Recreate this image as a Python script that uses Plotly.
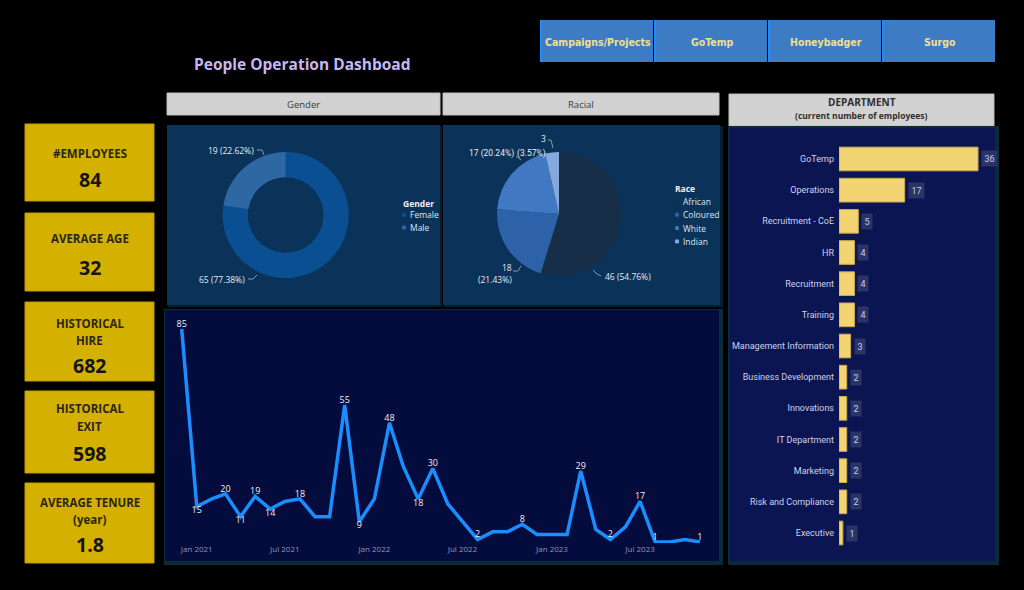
import plotly.graph_objects as go
import pandas as pd

# ---------------- data ----------------
kpi_labels = ["#EMPLOYEES", "AVERAGE AGE", "HISTORICAL<br>HIRE", "HISTORICAL<br>EXIT", "AVERAGE TENURE<br>(year)"]
kpi_values = ["84", "32", "682", "598", "1.8"]

buttons = ["Campaigns/Projects", "GoTemp", "Honeybadger", "Surgo"]

gender_labels = ["Female", "Male"]
gender_values = [65, 19]

race_labels = ["African", "Coloured", "White", "Indian"]
race_values = [46, 18, 17, 3]

dept_names = ["GoTemp", "Operations", "Recruitment - CoE", "HR", "Recruitment", "Training",
              "Management Information", "Business Development", "Innovations", "IT Department",
              "Marketing", "Risk and Compliance", "Executive"]
dept_values = [36, 17, 5, 4, 4, 4, 3, 2, 2, 2, 2, 2, 1]

months = pd.date_range("2020-12-01", "2023-11-01", freq="MS")
hires = [85, 15, 18, 20, 11, 19, 14, 17, 18, 11, 11, 55, 9,
         18, 48, 31, 18, 30, 16, 9, 2, 5, 5, 8, 4,
         4, 4, 29, 6, 2, 7, 17, 1, 1, 2, 1]
label_pos = ["top", "bottom", "", "top", "bottom", "top", "bottom", "", "top", "", "", "top", "bottom",
             "", "top", "", "bottom", "top", "", "", "top", "", "", "top", "",
             "", "", "top", "", "top", "", "top", "top", "", "", "top"]

# ---------------- styling ----------------
W, H = 1024, 590
FONT = "Segoe UI, Open Sans, sans-serif"
SMALL = "Segoe UI, Roboto, sans-serif"
NARROW = "Liberation Sans Narrow, Arial Narrow, DejaVu Sans Condensed, sans-serif"
gender_colors = ["#0b4f93", "#2e68a3"]
race_colors = ["#162e47", "#2d62a8", "#4079c2", "#86a9dc"]


def X(px):
    return px / W


def Y(py):
    return 1 - py / H


shapes = []
annotations = []


def rect(x0, y0, x1, y1, fill, line_color=None, line_width=0, layer="below"):
    shapes.append(dict(type="rect", xref="paper", yref="paper", x0=X(x0), x1=X(x1), y0=Y(y1), y1=Y(y0),
                       fillcolor=fill, line=dict(color=line_color or fill, width=line_width), layer=layer))


def line(x0, y0, x1, y1, color="#8a9ab0", width=1):
    shapes.append(dict(type="line", xref="paper", yref="paper", x0=X(x0), x1=X(x1), y0=Y(y0), y1=Y(y1),
                       line=dict(color=color, width=width), layer="above"))


def dot(cx, cy, r, color):
    shapes.append(dict(type="circle", xref="paper", yref="paper", x0=X(cx - r), x1=X(cx + r),
                       y0=Y(cy + r), y1=Y(cy - r), fillcolor=color, line=dict(width=0), layer="above"))


def ann(px, py, text, size=10, color="#ffffff", family=FONT, xanchor="center", yanchor="middle", **kw):
    annotations.append(dict(xref="paper", yref="paper", x=X(px), y=Y(py), text=text, showarrow=False,
                            font=dict(size=size, color=color, family=family),
                            xanchor=xanchor, yanchor=yanchor, **kw))


# title
ann(192, 64, "<b>People Operation Dashboad</b>", size=15.5, color="#c6b6f2", xanchor="left")

# buttons
bx = [540, 654, 768, 882]
for i, b in enumerate(buttons):
    rect(bx[i], 20, bx[i] + 113, 62, "#3e7bc5")
    rect(bx[i], 20, bx[i] + 2, 62, "#1f8bff")
    ann(bx[i] + 58, 42, "<b>" + b + "</b>", size=10.5, color="#efe08c", family=NARROW)

# KPI cards
cards = [(124, 201), (213, 291), (302, 381), (391, 473), (483, 563)]
label_y = [[153], [238], [323, 340], [409, 426], [502, 519]]
value_y = [179, 267, 365, 453, 544]
for i, (y0, y1) in enumerate(cards):
    rect(25, y0, 154, y1, "#d4b000", "#c09e00", 1)
    for part, ly in zip(kpi_labels[i].split("<br>"), label_y[i]):
        ann(89.5, ly, "<b>" + part + "</b>", size=11.5, color="#2a2612")
    ann(89.5, value_y[i], "<b>" + kpi_values[i] + "</b>", size=19.5, color="#141414")

# section headers
rect(167, 93, 440, 115, "#d2d2d2", "#bdbdbd", 1)
ann(303.5, 104, "Gender", size=9.5, color="#3a3a3a")
rect(443, 93, 719, 115, "#d2d2d2", "#bdbdbd", 1)
ann(581, 104, "Racial", size=9.5, color="#3a3a3a")
rect(729, 94, 994, 126, "#d2d2d2", "#bdbdbd", 1)
ann(861.5, 102, "<b>DEPARTMENT</b>", size=10, color="#2e2e2e")
ann(861.5, 115, "<b>(current number of employees)</b>", size=8.5, color="#2e2e2e")

# panels (shadow + body)
rect(168, 126, 442, 307, "#061c30")
rect(167, 125, 440, 305, "#0b3258")
rect(444, 126, 723, 307, "#061c30")
rect(443, 125, 720, 305, "#0b3258")
rect(164, 309, 723, 565, "#0a2b3a")
rect(165, 310, 719, 561, "#040b3d")
rect(728, 126, 999, 565, "#0a2b3a")
rect(730, 128, 995, 561, "#0a1552")

# ---------------- traces ----------------
fig = go.Figure()

g_total = sum(gender_values)
fig.add_trace(go.Pie(labels=gender_labels, values=gender_values, hole=0.6, sort=False,
                     direction="clockwise", rotation=0, textinfo="none",
                     marker=dict(colors=gender_colors, line=dict(width=0)),
                     domain=dict(x=[X(222.7), X(348.7)], y=[Y(278), Y(152)]), showlegend=False))

r_total = sum(race_values)
fig.add_trace(go.Pie(labels=race_labels, values=race_values, sort=False,
                     direction="clockwise", rotation=0, textinfo="none",
                     marker=dict(colors=race_colors, line=dict(width=0)),
                     domain=dict(x=[X(497), X(621)], y=[Y(276), Y(152)]), showlegend=False))


def pct(v, t):
    return f"{v / t * 100:.2f}%"


ann(256, 150, f"{gender_values[1]} ({pct(gender_values[1], g_total)})", size=8.5, color="#e6ecf4", xanchor="right")
line(257, 150, 262, 150)
line(262, 150, 264, 155)
ann(247, 279, f"{gender_values[0]} ({pct(gender_values[0], g_total)})", size=8.5, color="#e6ecf4", xanchor="right")
line(248, 279, 253, 279)
line(253, 279, 257, 275)

ann(543, 139, f"{race_values[3]}", size=8.5, color="#e6ecf4")
ann(531, 153, f"({pct(race_values[3], r_total)})", size=8.5, color="#e6ecf4", family=SMALL)
line(548, 140, 551, 140)
line(551, 140, 553, 148)
ann(516, 153, f"{race_values[2]} ({pct(race_values[2], r_total)})", size=8.5, color="#e6ecf4",
    family=SMALL, xanchor="right")
line(516, 156, 521, 160)
ann(507, 267, f"{race_values[1]}", size=8.5, color="#e6ecf4")
ann(495, 279, f"({pct(race_values[1], r_total)})", size=8.5, color="#e6ecf4")
line(513, 271, 518, 271)
line(518, 271, 521, 266)
ann(603, 276, f"{race_values[0]} ({pct(race_values[0], r_total)})", size=8.5, color="#e6ecf4", xanchor="left")
line(593, 270, 597, 274)
line(597, 274, 601, 276)

# manual legends
ann(401, 203, "<b>Gender</b>", size=8.5, color="#f0f0f0", xanchor="left")
for i, lab in enumerate(gender_labels):
    yy = 215 + i * 12.5
    dot(404, yy, 2.2, gender_colors[i])
    ann(408, yy, lab, size=8.5, color="#dfe8f0", xanchor="left")

ann(673, 189, "<b>Race</b>", size=8.5, color="#f0f0f0", xanchor="left")
for i, lab in enumerate(race_labels):
    yy = 201.5 + i * 13.3
    dot(677, yy, 2.2, race_colors[i])
    ann(681, yy, lab, size=8.5, color="#dfe8f0", xanchor="left")

# line chart
texts = [str(v) if p else "" for v, p in zip(hires, label_pos)]
tpos = [("bottom center" if p == "bottom" else "top center") for p in label_pos]
fig.add_trace(go.Scatter(x=months, y=hires, mode="lines+text", text=texts, textposition=tpos,
                         line=dict(color="#1a8dff", width=3.5),
                         textfont=dict(size=9, color="#eef0f8", family=FONT),
                         cliponaxis=False, showlegend=False, xaxis="x", yaxis="y"))

# department bars
fig.add_trace(go.Bar(x=dept_values, y=dept_names, orientation="h", width=0.76,
                     marker=dict(color="#f2d472", line=dict(color="#c9a94e", width=1)),
                     showlegend=False, xaxis="x2", yaxis="y2"))
for n, v in zip(dept_names, dept_values):
    annotations.append(dict(xref="x2", yref="y2", x=v, y=n, text=str(v), showarrow=False,
                            xanchor="left", xshift=3, bgcolor="#2a3466", borderpad=2.5,
                            font=dict(size=9, color="#c9cde6", family=SMALL)))

fig.update_layout(
    width=W, height=H, margin=dict(l=0, r=0, t=0, b=0),
    paper_bgcolor="#000000", plot_bgcolor="rgba(0,0,0,0)",
    font=dict(family=FONT),
    xaxis=dict(domain=[X(170), X(716)], type="date",
               range=["2020-11-07", "2023-12-04"], tick0="2021-01-01", dtick="M6",
               tickformat="%b %Y", showgrid=False, zeroline=False, showline=False, ticks="",
               tickfont=dict(size=8, color="#9098b8", family=FONT), anchor="y"),
    yaxis=dict(domain=[Y(543), Y(318)], range=[0.606, 89.34], visible=False, anchor="x"),
    xaxis2=dict(domain=[X(839), X(990)], range=[0, 39.1], visible=False, anchor="y2"),
    yaxis2=dict(domain=[Y(548.6), Y(143.4)], autorange="reversed", showgrid=False, showline=False,
                ticks="", ticklabelstandoff=4, tickfont=dict(size=9, color="#cdd3ee", family=SMALL),
                anchor="x2"),
    shapes=shapes, annotations=annotations,
)

fig.write_html("out.html", config={"displayModeBar": False},
               post_script="document.body.style.margin='0';document.body.style.background='#000';")
